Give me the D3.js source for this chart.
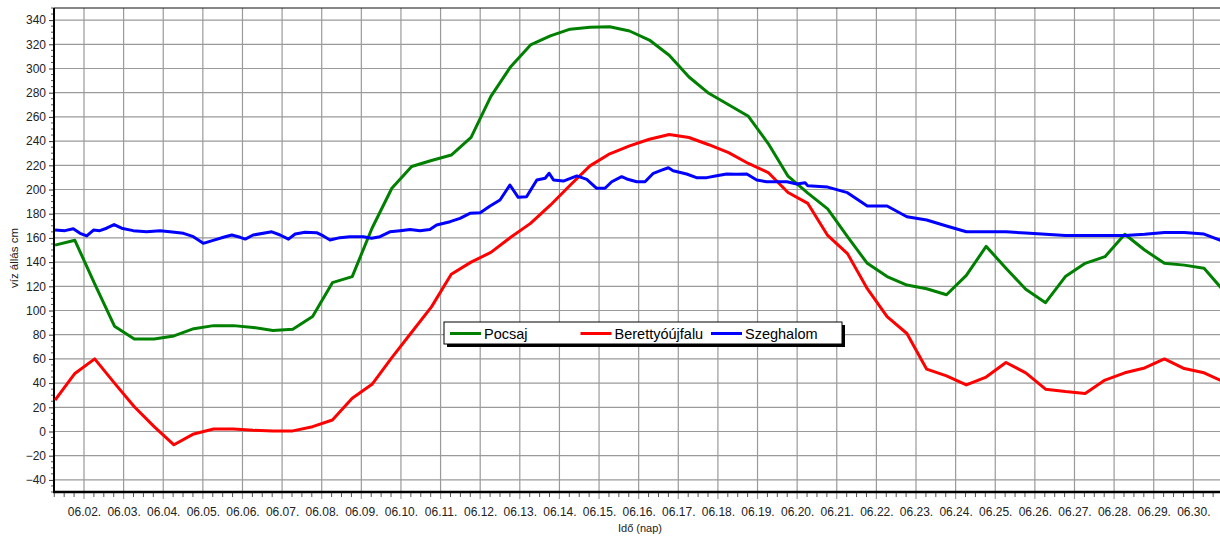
<!DOCTYPE html>
<html>
<head>
<meta charset="utf-8">
<script src="https://cdn.jsdelivr.net/npm/d3@7"></script>
<style>
  html, body { margin: 0; padding: 0; background: #fff; }
  svg { display: block; font-family: "Liberation Sans", Arial, sans-serif; }
</style>
</head>
<body>
<svg id="chart" width="1220" height="536"></svg>
<script>
// ---- data (days of June, fractional) ----
const sampleDays = [1.27,1.77,2.27,2.77,3.27,3.77,4.27,4.77,5.27,5.77,6.27,6.77,7.27,7.77,8.27,8.77,9.27,9.77,10.27,10.77,
  11.27,11.77,12.27,12.77,13.27,13.77,14.27,14.77,15.27,15.77,16.27,16.77,17.27,17.77,18.27,18.77,19.27,19.77,20.27,20.77,
  21.27,21.77,22.27,22.77,23.27,23.77,24.27,24.77,25.27,25.77,26.27,26.77,27.27,27.77,28.27,28.77,29.27,29.77,30.27,30.77];

const pocsaj = [154,158,122,87,76.5,76.5,79,85,87.5,87.5,86,83.5,84.5,95,123,128,168,201,219,224,
  228.5,243,277,301.5,319.5,327,332.5,334,334.5,331,323.5,311,293,279.5,270,260.5,238,211,197,184,
  161,139,128,121,118,113,129,153,135,117.5,106.5,128,139,144.5,163,150,139,137.5,135,116];

const berettyo = [26,48,60,40,20.5,4,-11,-2,2,2,1,0.5,0.5,4,9.5,27.5,39,61,82,103,
  130,140,148,160.5,172,187,203.5,219.5,229.5,236,241.5,245.5,243,237,230.5,221.5,214,197.5,188.5,162,
  147,118,95,81,51.5,46,38.5,45,57,48.5,35,33,31.5,42.5,48.5,52.5,60,52,48.5,41];

const szeghalomDays = [1.27,1.52,1.73,1.90,2.07,2.24,2.40,2.57,2.76,2.95,3.24,3.58,3.92,4.17,4.51,4.76,5.01,5.26,5.52,5.73,
  5.94,6.07,6.27,6.74,6.95,7.16,7.33,7.58,7.87,8.04,8.21,8.46,8.71,9.05,9.26,9.47,9.72,9.98,10.23,10.48,
  10.73,10.90,11.24,11.49,11.74,12.00,12.25,12.50,12.75,12.96,13.17,13.43,13.64,13.74,13.85,14.10,14.44,14.69,14.94,15.15,
  15.32,15.57,15.70,15.95,16.16,16.37,16.58,16.75,16.87,17.21,17.46,17.72,17.97,18.22,18.47,18.73,18.98,19.23,19.48,19.74,
  19.99,20.20,20.27,20.77,21.27,21.77,22.27,22.77,23.27,23.77,24.27,24.77,25.27,25.77,26.27,26.77,27.27,27.77,28.27,28.77,
  29.27,29.77,30.27,30.77];
const szeghalom = [166.5,166,167.5,163.8,161.6,166.5,166,168,171,168,166,165,166,165,163.8,161,155.5,158,160.5,162.4,
  160.5,159,162.4,165,162.4,159,163.2,164.6,164.3,161.6,158.3,160.2,161,161,159.7,161,165,166,167,166,
  167,170.7,173.4,176.2,180.3,180.8,186.4,191.3,203.7,193.5,194,207.9,209.3,213.4,207.9,207,211.2,208.4,201,201,
  206.4,210.6,208.7,206.4,206.4,213.4,216,218,215.5,212.8,209.8,209.8,211.4,212.8,212.6,212.8,207.9,206.4,206.4,206.4,
  204.5,205.6,203,202,197.4,186.4,186.4,177.5,174.8,169.8,165.1,165.1,165,164,163,162,162,162,162,163,
  164.5,164.5,163.2,157];

const seriesNames = ["Pocsaj", "Berettyóújfalu", "Szeghalom"];
const seriesColors = ["#008000", "#ff0000", "#0000ff"];
const dayTicks = d3.range(2, 31);
const yTicks = [-40,-20,0,20,40,60,80,100,120,140,160,180,200,220,240,260,280,300,320,340];

// ---- layout ----
const svg = d3.select("#chart");
const L = 54, R = 1221, T = 8, B = 492;
const x = d3.scaleLinear().domain([1.243, 30.698]).range([L, R]);
const y = d3.scaleLinear().domain([-50, 350]).range([B, T]);

svg.append("defs").append("clipPath").attr("id", "clip")
  .append("rect").attr("x", L).attr("y", T).attr("width", R - L).attr("height", B - T);

// grid
const grid = svg.append("g");
grid.selectAll("line.h").data(yTicks).join("line")
  .attr("x1", L).attr("x2", R).attr("y1", d => y(d)).attr("y2", d => y(d))
  .attr("stroke", "#9a9a9a").attr("stroke-width", 1.2);
grid.selectAll("line.v").data(dayTicks).join("line")
  .attr("x1", d => x(d)).attr("x2", d => x(d)).attr("y1", T).attr("y2", B + 7)
  .attr("stroke", "#9a9a9a").attr("stroke-width", 1.2);

// minor x ticks (6h)
const minorX = d3.range(1.25, 30.7, 0.25).filter(d => Math.abs(d - Math.round(d)) > 0.01);
svg.append("g").selectAll("line").data(minorX).join("line")
  .attr("x1", d => x(d)).attr("x2", d => x(d)).attr("y1", B).attr("y2", B + 5)
  .attr("stroke", "#555").attr("stroke-width", 1);

// minor y ticks (5 units)
const minorY = d3.range(-50, 351, 5).filter(d => d % 20 !== 0);
svg.append("g").selectAll("line").data(minorY).join("line")
  .attr("x1", L - 3).attr("x2", L).attr("y1", d => y(d)).attr("y2", d => y(d))
  .attr("stroke", "#555").attr("stroke-width", 1);

// y axis
const yAxis = d3.axisLeft(y).tickValues(yTicks).tickSize(5).tickPadding(3).tickFormat(d3.format("d"));
const gy = svg.append("g").attr("transform", `translate(${L},0)`).call(yAxis);
gy.select(".domain").remove();
gy.selectAll(".tick line").attr("stroke", "#333");
gy.selectAll("text").attr("font-size", 12).attr("fill", "#222").attr("font-family", "Liberation Sans, Arial, sans-serif");

// x axis
const xAxis = d3.axisBottom(x).tickValues(dayTicks).tickSize(0).tickPadding(15)
  .tickFormat(d => "06." + String(d).padStart(2, "0") + ".");
const gx = svg.append("g").attr("transform", `translate(0,${B})`).call(xAxis);
gx.select(".domain").remove();
gx.selectAll("text").attr("font-size", 12).attr("fill", "#222").attr("font-family", "Liberation Sans, Arial, sans-serif");

// frame
svg.append("line").attr("x1", L).attr("x2", R).attr("y1", T).attr("y2", T).attr("stroke", "#111").attr("stroke-width", 1);
svg.append("line").attr("x1", L).attr("x2", L).attr("y1", T).attr("y2", B + 1).attr("stroke", "#000").attr("stroke-width", 2);
svg.append("line").attr("x1", L - 1).attr("x2", R).attr("y1", B).attr("y2", B).attr("stroke", "#000").attr("stroke-width", 2.5);

// lines
const line = d3.line().x(d => x(d[0])).y(d => y(d[1]));
const lines = svg.append("g").attr("clip-path", "url(#clip)");
const seriesData = [
  sampleDays.map((d, i) => [d, pocsaj[i]]),
  sampleDays.map((d, i) => [d, berettyo[i]]),
  szeghalomDays.map((d, i) => [d, szeghalom[i]])
];
seriesData.forEach((s, i) => {
  lines.append("path").datum(s).attr("d", line)
    .attr("fill", "none").attr("stroke", seriesColors[i]).attr("stroke-width", 3)
    .attr("stroke-linejoin", "round");
});

// axis titles
svg.append("text").attr("x", 640).attr("y", 532).attr("text-anchor", "middle")
  .attr("font-size", 11).attr("fill", "#222").text("Idő (nap)");
svg.append("text").attr("transform", "translate(18,258) rotate(-90)").attr("text-anchor", "middle")
  .attr("font-size", 11.5).attr("fill", "#222").text("víz állás cm");

// legend
const lg = svg.append("g");
const lx = 444, ly = 322, lw = 398, lh = 22;
lg.append("rect").attr("x", lx + 3).attr("y", ly + 3).attr("width", lw).attr("height", lh).attr("fill", "#000");
lg.append("rect").attr("x", lx).attr("y", ly).attr("width", lw).attr("height", lh).attr("fill", "#fff").attr("stroke", "#000").attr("stroke-width", 1);
seriesNames.forEach((n, i) => {
  const ox = 450 + i * 130.5;
  lg.append("line").attr("x1", ox).attr("x2", ox + 31).attr("y1", ly + 11.5).attr("y2", ly + 11.5)
    .attr("stroke", seriesColors[i]).attr("stroke-width", 3);
  lg.append("text").attr("x", ox + 34).attr("y", ly + 17).attr("font-size", 14.5).attr("fill", "#000").text(n);
});
</script>
</body>
</html>
